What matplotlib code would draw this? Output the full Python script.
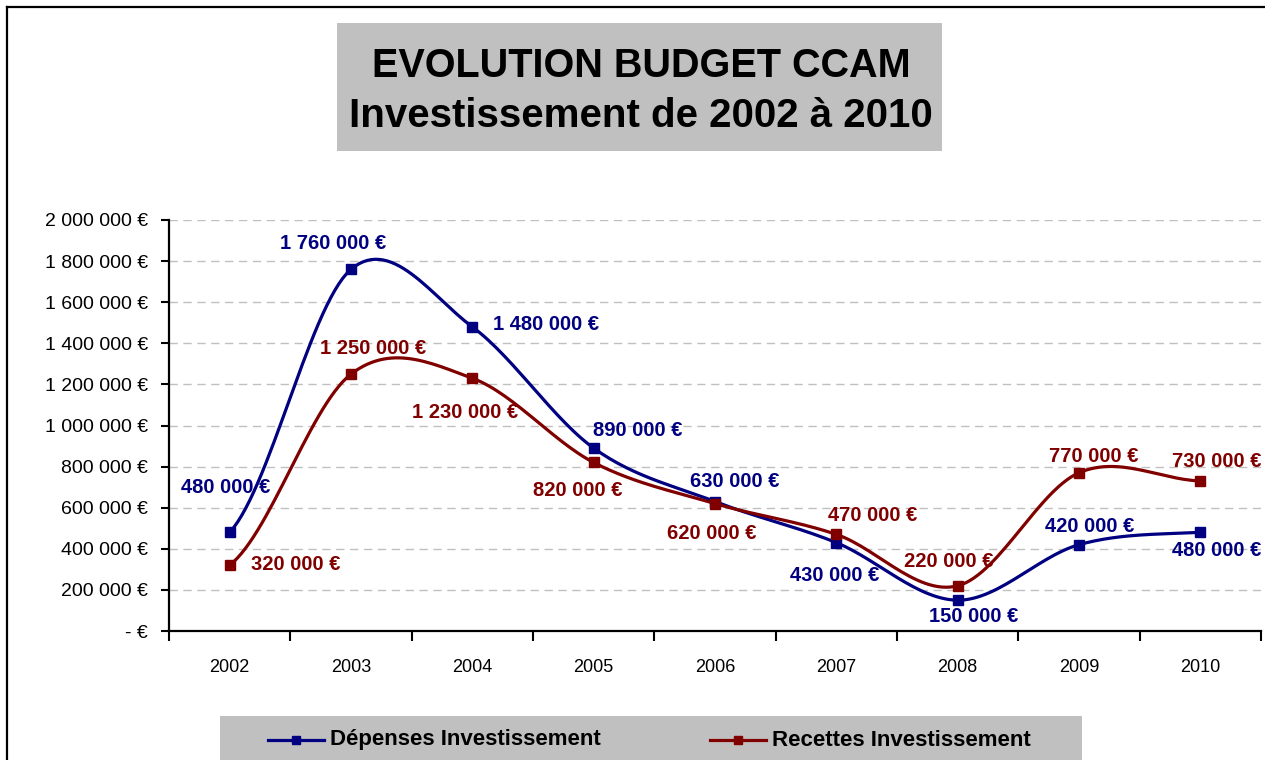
import numpy as np
import matplotlib.pyplot as plt
from matplotlib.patches import Rectangle
from matplotlib.lines import Line2D
from matplotlib.ticker import FuncFormatter, MultipleLocator

plt.rcParams['font.family'] = ['Liberation Sans', 'DejaVu Sans']

years = ['2002', '2003', '2004', '2005', '2006', '2007', '2008', '2009', '2010']
depenses = [480000, 1760000, 1480000, 890000, 630000, 430000, 150000, 420000, 480000]
recettes = [320000, 1250000, 1230000, 820000, 620000, 470000, 220000, 770000, 730000]
series_names = ['Dépenses Investissement', 'Recettes Investissement']

# label offsets in pixels (label centre relative to the marker)
off_dep = [(-4, 45), (-18, 26), (74, 2), (44, 18), (20, 20), (-2, -33), (16, -16), (11, 18), (16, -18)]
off_rec = [(66, 1), (22, 26), (-7, -34), (-16, -28), (-3, -30), (36, 19), (-9, 24), (15, 16), (16, 19)]

BLUE = '#000080'
RED = '#800000'
GREY = '#c0c0c0'


def euro(v, pos=None):
    if v == 0:
        return '- €'
    return '{:,.0f} €'.format(v).replace(',', ' ')


def smooth(y, n=30):
    # Catmull-Rom curve through the points, like Excel's smoothed line
    y = np.asarray(y, dtype=float)
    x = np.arange(len(y), dtype=float)
    px = np.concatenate([[2 * x[0] - x[1]], x, [2 * x[-1] - x[-2]]])
    py = np.concatenate([[y[0]], y, [y[-1]]])
    xs, ys = [], []
    for i in range(1, len(px) - 2):
        t = np.linspace(0, 1, n, endpoint=False)
        for arr, out in ((px, xs), (py, ys)):
            p0, p1, p2, p3 = arr[i - 1], arr[i], arr[i + 1], arr[i + 2]
            m1 = (p2 - p0) / 2
            m2 = (p3 - p1) / 2
            h00 = 2 * t**3 - 3 * t**2 + 1
            h10 = t**3 - 2 * t**2 + t
            h01 = -2 * t**3 + 3 * t**2
            h11 = t**3 - t**2
            out.extend(h00 * p1 + h10 * m1 + h01 * p2 + h11 * m2)
    xs.append(x[-1])
    ys.append(y[-1])
    return np.array(xs), np.array(ys)


fig = plt.figure(figsize=(12.65, 7.6), dpi=100)
ax = fig.add_axes([169 / 1265, 1 - 631 / 760, (1261 - 169) / 1265, (631 - 220) / 760])

x = np.arange(len(years))
for vals, color, offs in ((depenses, BLUE, off_dep), (recettes, RED, off_rec)):
    sx, sy = smooth(vals)
    ax.plot(sx, sy, color=color, lw=2.3, zorder=3, clip_on=False)
    ax.plot(x, vals, 's', color=color, ms=7.5, zorder=4, clip_on=False)
    for xi, v, (dx, dy) in zip(x, vals, offs):
        ax.annotate(euro(v), (xi, v), xytext=(dx, dy), textcoords='offset pixels',
                    ha='center', va='center', fontsize=14.5, fontweight='bold',
                    color=color, annotation_clip=False, zorder=5)

ax.set_xlim(-0.5, len(years) - 0.5)
ax.set_ylim(0, 2000000)
ax.yaxis.set_major_locator(MultipleLocator(200000))
ax.yaxis.set_major_formatter(FuncFormatter(euro))
ax.set_xticks(x)
ax.set_xticklabels(years)
ax.set_xticks(np.arange(-0.5, len(years)), minor=True)
ax.tick_params(axis='x', which='major', length=0, pad=20, labelsize=13)
ax.tick_params(axis='x', which='minor', length=7, width=1.5, direction='out')
ax.tick_params(axis='y', length=6, width=1.5, direction='out', pad=9, labelsize=14)
ax.grid(axis='y', color='#c0c0c0', ls=(0, (6, 4)), lw=1)
ax.set_axisbelow(True)
for s in ('top', 'right'):
    ax.spines[s].set_visible(False)
for s in ('left', 'bottom'):
    ax.spines[s].set_linewidth(1.6)

# outer frame
fig.add_artist(Line2D([7 / 1265, 7 / 1265], [0, 1 - 7 / 760], color='black', lw=1.6))
fig.add_artist(Line2D([7 / 1265, 1], [1 - 7 / 760, 1 - 7 / 760], color='black', lw=1.6))

# title box
fig.add_artist(Rectangle((337 / 1265, 1 - 151 / 760), (942 - 337) / 1265, (151 - 23) / 760,
                         transform=fig.transFigure, facecolor=GREY, edgecolor='none'))
fig.text(641 / 1265, 1 - 66 / 760, 'EVOLUTION BUDGET CCAM', ha='center', va='center',
         fontsize=28.5, fontweight='bold')
fig.text(641 / 1265, 1 - 116 / 760, 'Investissement de 2002 à 2010', ha='center', va='center',
         fontsize=29, fontweight='bold')

# legend box
fig.add_artist(Rectangle((220 / 1265, 0), (1082 - 220) / 1265, (760 - 716) / 760,
                         transform=fig.transFigure, facecolor=GREY, edgecolor='none'))
for name, color, x0 in ((series_names[0], BLUE, 268), (series_names[1], RED, 710)):
    yl = 1 - 740 / 760
    fig.add_artist(Line2D([x0 / 1265, (x0 + 56) / 1265], [yl, yl], color=color, lw=2.3))
    fig.add_artist(Line2D([(x0 + 28) / 1265], [yl], color=color, marker='s', ms=6))
    fig.text((x0 + 62) / 1265, yl, name, ha='left', va='center', fontsize=16,
             fontweight='bold')

fig.savefig('out.png', dpi=100)
